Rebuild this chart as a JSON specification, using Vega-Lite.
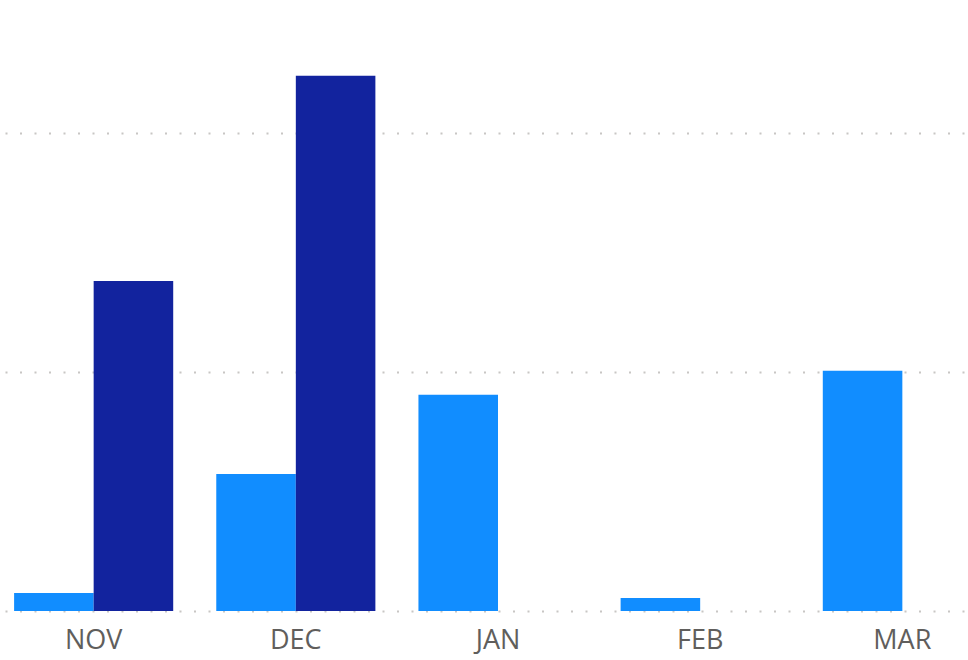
{
  "$schema": "https://vega.github.io/schema/vega-lite/v6.json",
  "width": 958,
  "height": 598,
  "autosize": {"type": "none"},
  "padding": {"left": 5, "top": 13, "right": 5, "bottom": 49},
  "background": "white",
  "data": {
    "values": [
      {"month": "NOV", "series": "S1", "value": 0.75},
      {"month": "NOV", "series": "S2", "value": 13.8},
      {"month": "DEC", "series": "S1", "value": 5.73},
      {"month": "DEC", "series": "S2", "value": 22.38},
      {"month": "JAN", "series": "S1", "value": 9.04},
      {"month": "FEB", "series": "S1", "value": 0.54},
      {"month": "MAR", "series": "S1", "value": 10.04}
    ]
  },
  "config": {"view": {"stroke": null}},
  "mark": {"type": "bar"},
  "encoding": {
    "x": {
      "field": "month",
      "type": "nominal",
      "sort": ["NOV", "DEC", "JAN", "FEB", "MAR"],
      "scale": {"range": [0, 986], "paddingInner": 0.213, "paddingOuter": 0.045},
      "axis": {
        "title": null,
        "domain": false,
        "ticks": false,
        "labelAngle": 0,
        "labelFont": "Open Sans",
        "labelFontSize": 27,
        "labelColor": "#605E5C",
        "labelPadding": 16
      }
    },
    "xOffset": {
      "field": "series",
      "type": "nominal",
      "scale": {"domain": ["S1", "S2"], "paddingInner": 0, "paddingOuter": 0}
    },
    "y": {
      "field": "value",
      "type": "quantitative",
      "scale": {"domain": [0, 25], "nice": false},
      "axis": {
        "title": null,
        "values": [0, 10, 20],
        "labels": false,
        "domain": false,
        "ticks": false,
        "gridColor": "#C8C6C4",
        "gridWidth": 2,
        "gridDash": [2, 12.5]
      }
    },
    "color": {
      "field": "series",
      "type": "nominal",
      "scale": {"domain": ["S1", "S2"], "range": ["#118DFF", "#12239E"]},
      "legend": null
    }
  }
}
